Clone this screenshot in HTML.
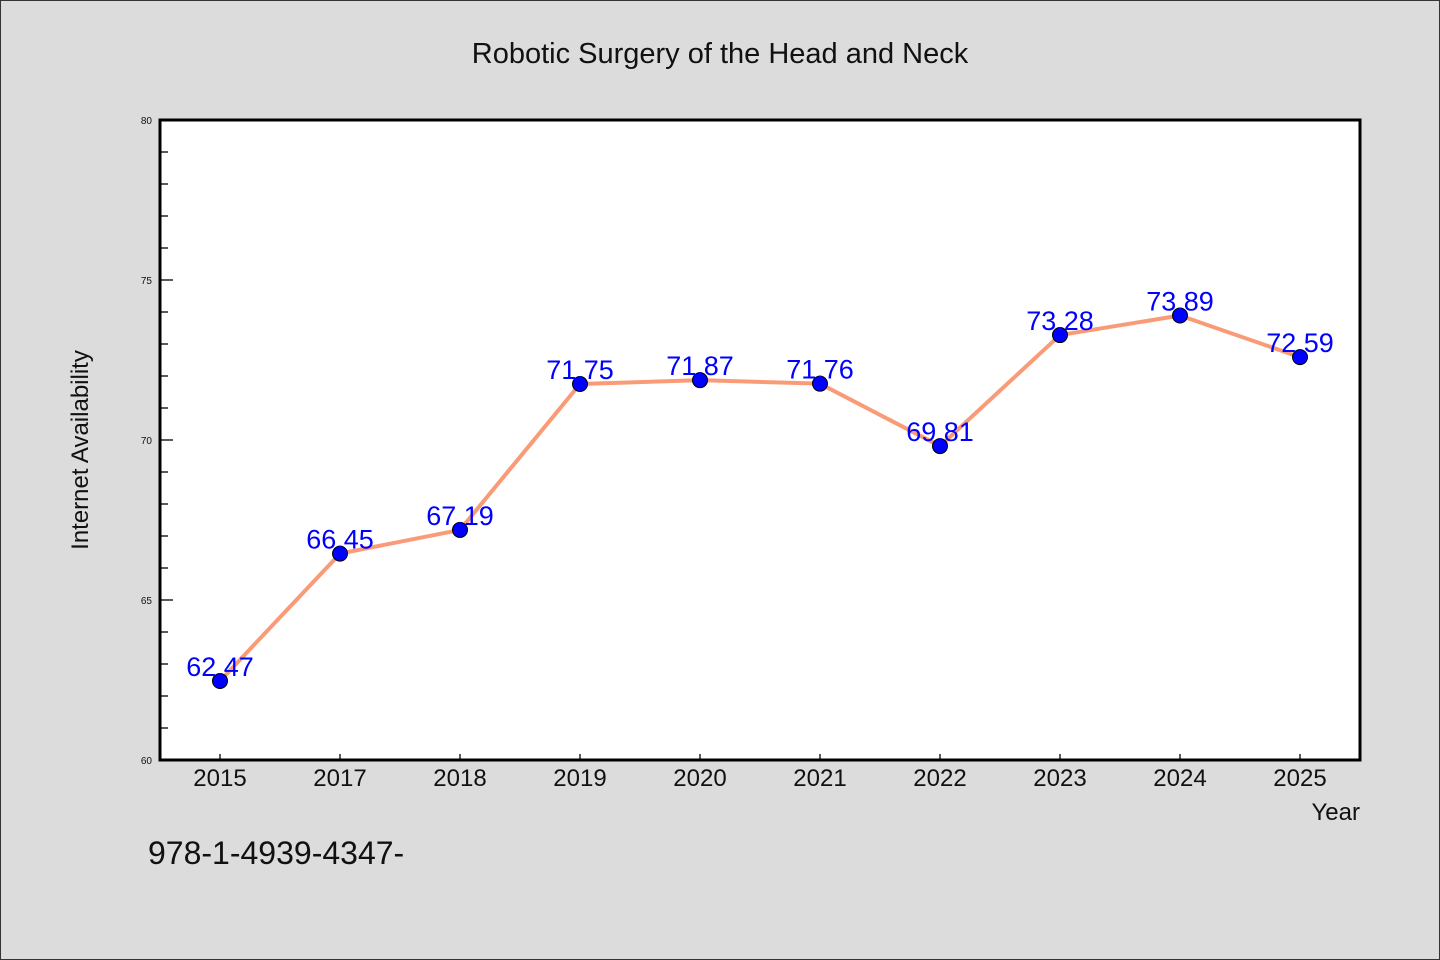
<!DOCTYPE html>
<html><head><meta charset="utf-8"><style>
body{margin:0;background:#dcdcdc}
svg{display:block;font-family:"WenQuanYi Zen Hei","Liberation Sans",sans-serif}
</style></head><body>
<svg width="1440" height="960" xmlns="http://www.w3.org/2000/svg">
<rect x="0.5" y="0.5" width="1439" height="959" fill="#dcdcdc" stroke="#333"/>
<text x="720" y="63" text-anchor="middle" font-size="29" fill="#111">Robotic Surgery of the Head and Neck</text>
<rect x="160" y="120" width="1200" height="640" fill="#fff"/>
<g id="axes"></g>
<g id="marks"></g>
<rect x="160" y="120" width="1200" height="640" fill="none" stroke="#000" stroke-width="3"/>
<text x="88" y="450" text-anchor="middle" font-size="24" fill="#111" transform="rotate(-90 88 450)">Internet Availability</text>
<text x="1360" y="820" text-anchor="end" font-size="24" fill="#111">Year</text>
<text x="148" y="864" font-size="32" fill="#111">978-1-4939-4347-</text>
</svg>
<script>
const categories=["2015","2017","2018","2019","2020","2021","2022","2023","2024","2025"];
const values=[62.47,66.45,67.19,71.75,71.87,71.76,69.81,73.28,73.89,72.59];
const labels=["62.47","66.45","67.19","71.75","71.87","71.76","69.81","73.28","73.89","72.59"];
const yTicks=[60,65,70,75,80];
const yMin=60,yMax=80;
const NS="http://www.w3.org/2000/svg";
const L=160,R=1360,T=120,B=760;
const xs=i=>L+60+i*(R-L-120)/(categories.length-1);
const ys=v=>B-(v-yMin)/(yMax-yMin)*(B-T);
function mk(t,a,p){const e=document.createElementNS(NS,t);for(const k in a)e.setAttribute(k,a[k]);p.appendChild(e);return e;}
const ax=document.getElementById('axes'),mg=document.getElementById('marks');
for(let v=yMin;v<=yMax;v++){
 const major=yTicks.includes(v);
 const t=mk('line',{x1:L,x2:L+(major?13:8),y1:ys(v),y2:ys(v),stroke:'#000','stroke-width':1.3},ax);
 
 
}
yTicks.forEach(v=>{
 const t=mk('text',{x:L-8,y:ys(v)+4,'text-anchor':'end','font-size':10,fill:'#111'},ax);t.textContent=v;
 
 
});
categories.forEach((c,i)=>{
 const t=mk('line',{x1:xs(i),x2:xs(i),y1:B,y2:B-6,stroke:'#000','stroke-width':1.3},ax);
 
 
 const l=mk('text',{x:xs(i),y:B+26,'text-anchor':'middle','font-size':24,fill:'#111'},ax);l.textContent=c;
 
 
});
const line=mk('polyline',{points:values.map((v,i)=>xs(i)+','+ys(v)).join(' '),fill:'none',stroke:'#fa9b78','stroke-width':4,'stroke-linejoin':'round'},mg);


values.forEach((v,i)=>{
 const c=mk('circle',{cx:xs(i),cy:ys(v),r:7.5,fill:'#0000ff',stroke:'#000','stroke-width':1},mg);
 
 
 const t=mk('text',{x:xs(i),y:ys(v)-5,'text-anchor':'middle','font-size':27,fill:'#0000ff'},mg);t.textContent=labels[i];
 
 
});
</script>
</body></html>
